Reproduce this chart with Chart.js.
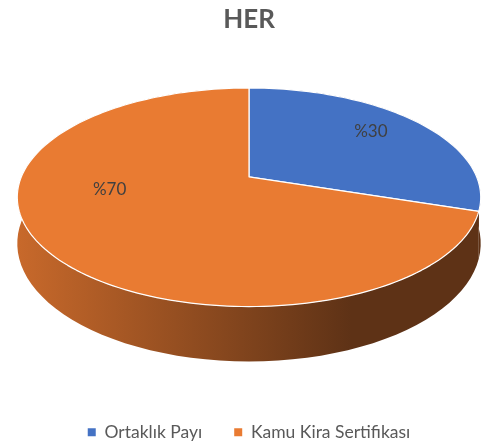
<!DOCTYPE html>
<html><head><meta charset="utf-8">
<script src="https://cdn.jsdelivr.net/npm/chart.js@4"></script>
<style>html,body{margin:0;padding:0;background:#fff}canvas{display:block}</style>
</head><body>
<canvas id="c" width="485" height="448"></canvas>
<script>
const categories = ['Ortaklık Payı', 'Kamu Kira Sertifikası'];
const shares = [30, 70];
const chartTitle = 'HER';
const labelPrefix = '%';

const topColors = ['#4472C4', '#E97B32'];
const sideColors = [['#C8692B', '#5E3216'], ['#C8692B', '#5E3216']];
const labelAnchors = [{deg: 51, r: 0.75}, {deg: 259, r: 0.61}];
const view = {kx: 1.5, ky: 0.695, kd: 0.294, persp: 0.187};

const pie3d = {
  id: 'pie3d',
  beforeDatasetsDraw(chart) {
    const ctx = chart.ctx;
    const meta = chart.getDatasetMeta(0);
    const arcs = meta.data;
    if (!arcs.length) return false;
    const R = arcs[0].outerRadius;
    const cx = arcs[0].x;
    const SR = view.kx * R, A = view.ky * R, D = view.kd * R, p = view.persp;
    const cy = chart.chartArea.top + A / (1 + p);
    const proj = (t, f, h) => {
      const z = f * Math.cos(t);
      const w = 1 + p * z;
      return [cx + SR * f * Math.sin(t) / w, cy - A * z / w + h * D / w];
    };
    const toT = a => a + Math.PI / 2;
    const steps = 120;
    ctx.save();
    // side walls
    arcs.forEach((arc, i) => {
      const t0 = toT(arc.startAngle), t1 = toT(arc.endAngle);
      const n = Math.max(4, Math.ceil(steps * (t1 - t0) / (2 * Math.PI)));
      ctx.beginPath();
      for (let k = 0; k <= n; k++) {
        const t = t0 + (t1 - t0) * k / n;
        const [x, y] = proj(t, 1, 0);
        k === 0 ? ctx.moveTo(x, y) : ctx.lineTo(x, y);
      }
      for (let k = n; k >= 0; k--) {
        const t = t0 + (t1 - t0) * k / n;
        const [x, y] = proj(t, 1, 1);
        ctx.lineTo(x, y);
      }
      ctx.closePath();
      const g = ctx.createLinearGradient(cx - SR * 1.02, 0, cx + SR * 0.45, 0);
      g.addColorStop(0, sideColors[i][0]);
      g.addColorStop(1, sideColors[i][1]);
      ctx.fillStyle = g;
      ctx.fill();
    });
    // top faces
    arcs.forEach((arc, i) => {
      const t0 = toT(arc.startAngle), t1 = toT(arc.endAngle);
      const n = Math.max(4, Math.ceil(steps * 2 * (t1 - t0) / (2 * Math.PI)));
      ctx.beginPath();
      const c = proj(0, 0, 0);
      ctx.moveTo(c[0], c[1]);
      for (let k = 0; k <= n; k++) {
        const t = t0 + (t1 - t0) * k / n;
        const [x, y] = proj(t, 1, 0);
        ctx.lineTo(x, y);
      }
      ctx.closePath();
      ctx.fillStyle = topColors[i];
      ctx.fill();
      ctx.lineWidth = 1.2;
      ctx.strokeStyle = '#ffffff';
      ctx.lineJoin = 'round';
      ctx.stroke();
    });
    // labels
    const data = chart.data.datasets[0].data;
    const total = data.reduce((s, v) => s + v, 0);
    ctx.font = '17px Lato';
    ctx.fillStyle = '#404040';
    ctx.textAlign = 'center';
    ctx.textBaseline = 'middle';
    data.forEach((v, i) => {
      const an = labelAnchors[i];
      const [x, y] = proj(an.deg * Math.PI / 180, an.r, 0);
      ctx.fillText(labelPrefix + Math.round(v / total * 100), x, y);
    });
    ctx.restore();
    return false;
  }
};

new Chart(document.getElementById('c'), {
  type: 'pie',
  data: {
    labels: categories,
    datasets: [{ data: shares, backgroundColor: topColors, borderWidth: 0 }]
  },
  options: {
    responsive: false,
    animation: false,
    devicePixelRatio: 1,
    layout: { padding: { left: 13, right: 0, top: 0, bottom: -3 } },
    plugins: {
      tooltip: { enabled: false },
      title: {
        display: true, text: chartTitle, color: '#595959',
        font: { family: 'Lato', size: 26, weight: 'bold' },
        padding: { top: 4, bottom: 52.8 }
      },
      legend: {
        position: 'bottom',
        labels: {
          boxWidth: 8, boxHeight: 8, padding: 32, color: '#595959',
          font: { family: 'Lato', size: 17.5 }
        }
      }
    }
  },
  plugins: [pie3d]
});
</script>
</body></html>
